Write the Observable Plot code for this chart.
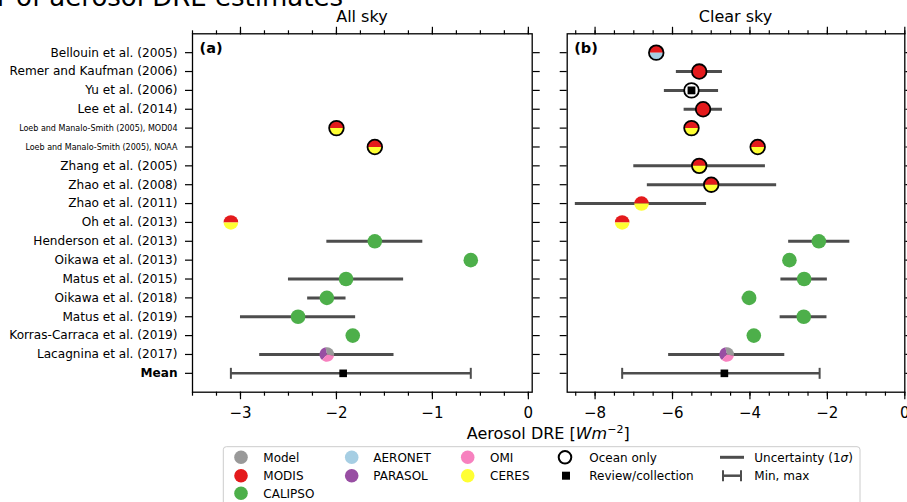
<!DOCTYPE html>
<html><head><meta charset="utf-8">
<script src="https://cdn.jsdelivr.net/npm/d3@7"></script>
<script src="https://cdn.jsdelivr.net/npm/@observablehq/plot@0.6"></script>
<style>
html,body{margin:0;padding:0;background:#fff;}
#wrap{position:relative;width:907px;height:502px;overflow:hidden;font-family:"DejaVu Sans",sans-serif;}
#wrap > svg{position:absolute;top:0;}
</style></head><body><div id="wrap"></div>
<script>
// ---------------- data ----------------
const studies = [
  "Bellouin et al. (2005)", "Remer and Kaufman (2006)", "Yu et al. (2006)", "Lee et al. (2014)",
  "Loeb and Manalo-Smith (2005), MOD04", "Loeb and Manalo-Smith (2005), NOAA",
  "Zhang et al. (2005)", "Zhao et al. (2008)", "Zhao et al. (2011)", "Oh et al. (2013)",
  "Henderson et al. (2013)", "Oikawa et al. (2013)", "Matus et al. (2015)", "Oikawa et al. (2018)",
  "Matus et al. (2019)", "Korras-Carraca et al. (2019)", "Lacagnina et al. (2017)"
];
const meanLabel = "Mean";
const smallLabels = ["Loeb and Manalo-Smith (2005), MOD04", "Loeb and Manalo-Smith (2005), NOAA"];
const instruments = [
  ["MODIS","AERONET"], ["MODIS"], [], ["MODIS"],
  ["MODIS","CERES"], ["MODIS","CERES"], ["MODIS","CERES"], ["MODIS","CERES"], ["MODIS","CERES"], ["MODIS","CERES"],
  ["CALIPSO"], ["CALIPSO"], ["CALIPSO"], ["CALIPSO"], ["CALIPSO"], ["CALIPSO"],
  ["Model","PARASOL","OMI"]
];
const oceanOnly = [1,1,1,1,1,1,1,1,0,0,0,0,0,0,0,0,0];
const review    = [0,0,1,0,0,0,0,0,0,0,0,0,0,0,0,0,0];

const allSky   = [null,null,null,null,-2.0,-1.6,null,null,null,-3.1,-1.6,-0.6,-1.9,-2.1,-2.4,-1.83,-2.1];
const allSkyLo = [null,null,null,null,null,null,null,null,null,null,-2.1,null,-2.5,-2.3,-3.0,null,-2.8];
const allSkyHi = [null,null,null,null,null,null,null,null,null,null,-1.1,null,-1.3,-1.9,-1.8,null,-1.4];
const allSkyMean = [-1.93, -3.1, -0.6]; // mean, min, max

const clearSky   = [-6.42,-5.31,-5.51,-5.21,-5.51,-3.8,-5.31,-5.0,-6.8,-7.3,-2.22,-2.98,-2.6,-4.02,-2.61,-3.9,-4.6];
const clearSkyLo = [null,-5.9,-6.21,-5.7,null,null,-7.0,-6.65,-8.51,null,-3.0,null,-3.2,-4.2,-3.22,null,-6.1];
const clearSkyHi = [null,-4.71,-4.81,-4.71,null,null,-3.6,-3.31,-5.12,null,-1.42,null,-2.0,-3.83,-2.01,null,-3.1];
const clearSkyMean = [-4.66, -7.3, -2.2];

const instColor = {Model:"#999999", MODIS:"#e41a1c", CALIPSO:"#4daf4a", AERONET:"#a6cee3",
                   PARASOL:"#984ea3", OMI:"#f781bf", CERES:"#ffff33"};
const legendItems = [["Model","MODIS","CALIPSO"],["AERONET","PARASOL"],["OMI","CERES"]];

// ---------------- symbols ----------------
const rad = s => Math.sqrt(s / Math.PI);
const topHalf = {draw(c, s){const r=rad(s); c.moveTo(r,0); c.arc(0,0,r,0,Math.PI,true); c.closePath();}};
const bottomHalf = {draw(c, s){const r=rad(s); c.moveTo(r,0); c.arc(0,0,r,0,Math.PI,false); c.closePath();}};
const wedge = (a0,a1) => ({draw(c, s){const r=rad(s), A0=a0*Math.PI/180, A1=a1*Math.PI/180;
  c.moveTo(0,0); c.lineTo(r*Math.cos(A0), r*Math.sin(A0)); c.arc(0,0,r,A0,A1,false); c.closePath();}});
const wedgeAngles = [[-100,10],[130,260],[10,130]];
const wedges = wedgeAngles.map(([a,b]) => wedge(a,b));
const vline = {draw(c, s){const r=rad(s); c.moveTo(0,-r); c.lineTo(0,r);}};

const fmt = d3.format("d");
const yDomain = [...studies, meanLabel];
const R = 7.3, BAR = "#4d4d4d";

function panel({values, lo, hi, meanStats, domain, majors, minors, width, marginLeft, marginRight, tag, labels}) {
  const rows = studies.map((s,i)=>({study:s, v:values[i], lo:lo[i], hi:hi[i], inst:instruments[i],
                                   ocean:oceanOnly[i], review:review[i]})).filter(d=>d.v!=null);
  const bars = rows.filter(d=>d.lo!=null);
  const full = [], tops = [], bottoms = [], w = [[],[],[]];
  for (const d of rows) {
    const cols = d.inst.map(k=>instColor[k]);
    if (cols.length === 0) full.push({study:d.study, v:d.v, color:"white"});
    else if (cols.length === 1) full.push({study:d.study, v:d.v, color:cols[0]});
    else if (cols.length === 2) { tops.push({study:d.study, v:d.v, color:cols[0]}); bottoms.push({study:d.study, v:d.v, color:cols[1]}); }
    else cols.forEach((c,j)=>w[j].push({study:d.study, v:d.v, color:c}));
  }
  const meanRow = [{study:meanLabel, v:meanStats[0], lo:meanStats[1], hi:meanStats[2]}];
  const marks = [
    Plot.axisX({anchor:"bottom", ticks:minors, tickSize:4, fill:"none", strokeWidth:1.2, label:null}),
    Plot.axisX({anchor:"bottom", ticks:majors, tickSize:7.5, tickPadding:8, tickFormat:fmt, fontSize:15, strokeWidth:1.2, label:null}),
    Plot.axisX({anchor:"top", ticks:minors, tickSize:4, fill:"none", strokeWidth:1.2, label:null}),
    Plot.axisX({anchor:"top", ticks:majors, tickSize:7.5, fill:"none", strokeWidth:1.2, label:null}),
    Plot.axisY({anchor:"left", tickSize:7, fill:"none", strokeWidth:1.2, label:null}),
    Plot.axisY({anchor:"right", tickSize:7, fill:"none", strokeWidth:1.2, label:null}),
    Plot.ruleY(bars, {y:"study", x1:"lo", x2:"hi", stroke:BAR, strokeWidth:3}),
    Plot.ruleY(meanRow, {y:"study", x1:"lo", x2:"hi", stroke:BAR, strokeWidth:2.5}),
    Plot.dot(meanRow, {y:"study", x:"lo", symbol:vline, r:5.5, fill:"none", stroke:BAR, strokeWidth:2}),
    Plot.dot(meanRow, {y:"study", x:"hi", symbol:vline, r:5.5, fill:"none", stroke:BAR, strokeWidth:2}),
    Plot.dot(full, {y:"study", x:"v", r:R, fill:"color", stroke:null}),
    Plot.dot(tops, {y:"study", x:"v", r:R, symbol:topHalf, fill:"color", stroke:null}),
    Plot.dot(bottoms, {y:"study", x:"v", r:R, symbol:bottomHalf, fill:"color", stroke:null}),
    ...w.map((arr,j)=>Plot.dot(arr, {y:"study", x:"v", r:R, symbol:wedges[j], fill:"color", stroke:null})),
    Plot.dot(rows.filter(d=>d.ocean), {y:"study", x:"v", r:R, fill:"none", stroke:"black", strokeWidth:1.8}),
    Plot.dot(rows.filter(d=>d.review), {y:"study", x:"v", r:4.4, symbol:"square", fill:"black", stroke:null}),
    Plot.dot(meanRow, {y:"study", x:"v", r:4.3, symbol:"square", fill:"black", stroke:null}),
    Plot.frame({stroke:"black", strokeWidth:1.3}),
    Plot.text([tag], {text:d=>d, frameAnchor:"top-left", dx:7, dy:9, lineAnchor:"top", fontWeight:"bold", fontSize:14.5})
  ];
  if (labels) {
    marks.push(
      Plot.text(studies.filter(s=>!smallLabels.includes(s)), {y:d=>d, text:d=>d, frameAnchor:"left", textAnchor:"end", dx:-15, fontSize:12.1, fill:"black"}),
      Plot.text(smallLabels, {y:d=>d, text:d=>d, frameAnchor:"left", textAnchor:"end", dx:-15, fontSize:8, fill:"black"}),
      Plot.text([meanLabel], {y:d=>d, text:d=>d, frameAnchor:"left", textAnchor:"end", dx:-15, fontSize:12.1, fontWeight:"bold", fill:"black"})
    );
  }
  return Plot.plot({
    width, height:420, marginLeft, marginRight, marginTop:33.3, marginBottom:28.3,
    x:{domain, label:null},
    y:{type:"point", domain:yDomain, padding:1, round:false, align:0.5, label:null},
    color:{type:"identity"},
    style:{fontFamily:"DejaVu Sans", fontSize:"15px", color:"black", background:"transparent", overflow:"visible"},
    marks
  });
}

const wrap = document.getElementById("wrap");
const left = panel({values:allSky, lo:allSkyLo, hi:allSkyHi, meanStats:allSkyMean, domain:[-3.5,0.04],
  majors:[-3,-2,-1,0], minors:d3.range(0,15).map(i=>-3.5+i*0.25), width:545, marginLeft:192, marginRight:13.3, tag:"(a)", labels:true});
left.style.left = "0px";
wrap.appendChild(left);
const right = panel({values:clearSky, lo:clearSkyLo, hi:clearSkyHi, meanStats:clearSkyMean, domain:[-8.72,0],
  majors:[-8,-6,-4,-2,0], minors:d3.range(0,18).map(i=>-8.5+i*0.5), width:362, marginLeft:21.7, marginRight:2.7, tag:"(b)", labels:false});
right.style.left = "545px";
wrap.appendChild(right);

// ---------------- titles, axis label, legend ----------------
const NS = "http://www.w3.org/2000/svg";
const ov = document.createElementNS(NS, "svg");
ov.setAttribute("width", 907); ov.setAttribute("height", 502);
ov.style.left = "0px"; ov.style.pointerEvents = "none";
ov.setAttribute("font-family", "DejaVu Sans");
let html = "";
html += `<text x="343" y="6" text-anchor="end" font-size="26">Scatter of aerosol DRE estimates</text>`;
html += `<text x="361.9" y="21.5" text-anchor="middle" font-size="16">All sky</text>`;
html += `<text x="735.5" y="21.5" text-anchor="middle" font-size="16">Clear sky</text>`;
html += `<text x="548.2" y="439" text-anchor="middle" font-size="16">Aerosol DRE [<tspan font-style="italic">Wm</tspan><tspan dy="-6.5" font-size="11">−2</tspan><tspan dy="6.5">]</tspan></text>`;
html += `<rect x="223.3" y="446.7" width="636.7" height="80" rx="3" fill="white" stroke="#cccccc" stroke-width="1"/>`;
const rowY = [457.3, 475.7, 493.3];
const colCircle = [241, 351.7, 467.7], colText = [263.3, 373.3, 490];
legendItems.forEach((col, ci) => col.forEach((name, ri) => {
  html += `<circle cx="${colCircle[ci]}" cy="${rowY[ri]}" r="6.8" fill="${instColor[name]}"/>`;
  html += `<text x="${colText[ci]}" y="${rowY[ri]+4.4}" font-size="12">${name}</text>`;
}));
html += `<circle cx="565" cy="${rowY[0]}" r="6.3" fill="none" stroke="black" stroke-width="2"/>`;
html += `<text x="589.3" y="${rowY[0]+4.4}" font-size="12">Ocean only</text>`;
html += `<rect x="562" y="${rowY[1]-4}" width="8" height="8" fill="black"/>`;
html += `<text x="589.3" y="${rowY[1]+4.4}" font-size="12">Review/collection</text>`;
html += `<line x1="720" x2="744" y1="${rowY[0]}" y2="${rowY[0]}" stroke="${BAR}" stroke-width="3"/>`;
html += `<text x="754.3" y="${rowY[0]+4.4}" font-size="12">Uncertainty (1<tspan font-style="italic">σ</tspan>)</text>`;
html += `<line x1="723" x2="741" y1="${rowY[1]}" y2="${rowY[1]}" stroke="${BAR}" stroke-width="2.5"/>`;
html += `<line x1="723" x2="723" y1="${rowY[1]-5.5}" y2="${rowY[1]+5.5}" stroke="${BAR}" stroke-width="2"/>`;
html += `<line x1="741" x2="741" y1="${rowY[1]-5.5}" y2="${rowY[1]+5.5}" stroke="${BAR}" stroke-width="2"/>`;
html += `<text x="754.3" y="${rowY[1]+4.4}" font-size="12">Min, max</text>`;
ov.innerHTML = html;
wrap.appendChild(ov);
</script></body></html>
